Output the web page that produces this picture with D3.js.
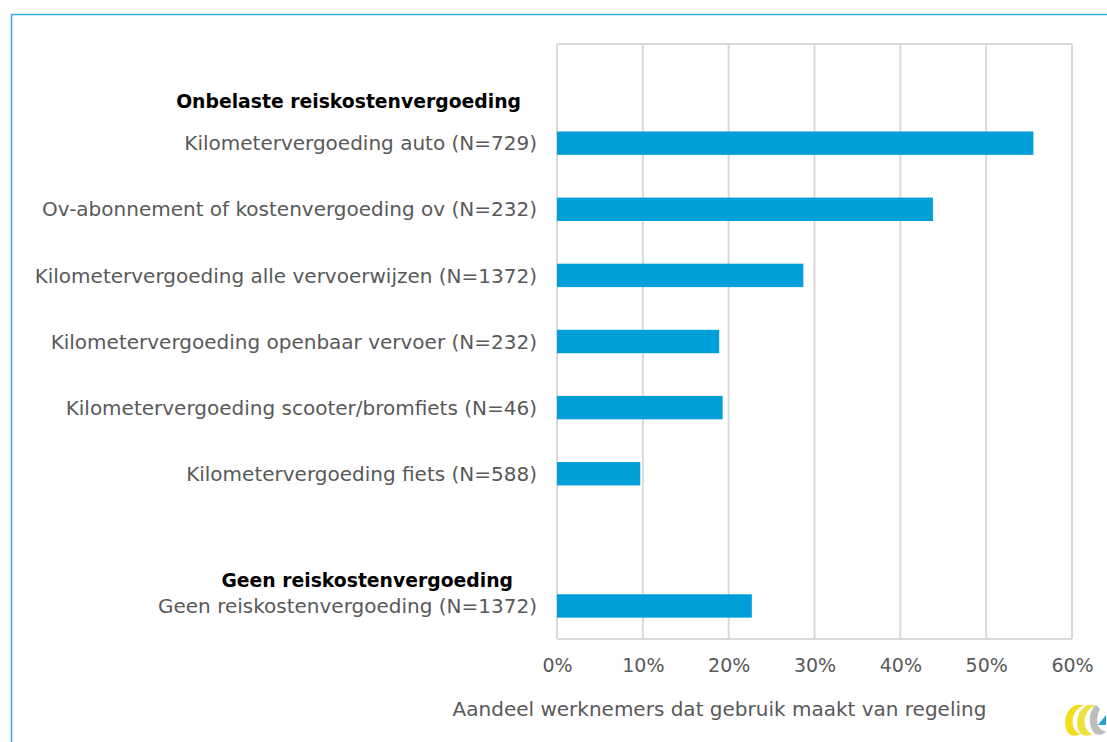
<!DOCTYPE html>
<html>
<head>
<meta charset="utf-8">
<script src="https://cdn.jsdelivr.net/npm/d3@7"></script>
<style>
  body { margin: 0; background: #fff; }
  svg text { font-family: "DejaVu Sans", sans-serif; }
</style>
</head>
<body>
<div id="chart"></div>
<script>
// rows of the category axis (keys starting with _ are spacer rows)
const categories = [
    '_top',
    'Kilometervergoeding auto (N=729)',
    'Ov-abonnement of kostenvergoeding ov (N=232)',
    'Kilometervergoeding alle vervoerwijzen (N=1372)',
    'Kilometervergoeding openbaar vervoer (N=232)',
    'Kilometervergoeding scooter/bromfiets (N=46)',
    'Kilometervergoeding fiets (N=588)',
    '_gap',
    'Geen reiskostenvergoeding (N=1372)'
];
const values = [null, 0.555, 0.438, 0.287, 0.189, 0.193, 0.097, null, 0.227];
const groupHeaders = ['Onbelaste reiskostenvergoeding', 'Geen reiskostenvergoeding'];
const headerRows = [1, 8];
const ticks = [0, 0.1, 0.2, 0.3, 0.4, 0.5, 0.6];
const axisTitle = 'Aandeel werknemers dat gebruik maakt van regeling';

const W = 1107, H = 742;
const margin = { top: 44, right: 35, bottom: 103, left: 557 };
const width = W - margin.left - margin.right,
    height = H - margin.top - margin.bottom;

const svg = d3.select('#chart')
    .append('svg')
    .attr('width', W)
    .attr('height', H);

// outer frame
svg.append('rect')
    .attr('x', 11.5).attr('y', 14.5)
    .attr('width', W + 20).attr('height', H + 20)
    .attr('fill', 'none')
    .attr('stroke', '#3aaee0')
    .attr('stroke-width', 1.5);

const g = svg.append('g')
    .attr('transform', `translate(${margin.left},${margin.top})`);

const x = d3.scaleLinear().domain([0, 0.6]).range([0, width]);
const y = d3.scaleBand().domain(categories).range([0, height])
    .paddingInner(0.646).paddingOuter(0.323);

// grid
g.selectAll('.grid')
    .data(ticks)
    .enter().append('line')
    .attr('x1', d => x(d)).attr('x2', d => x(d))
    .attr('y1', 0).attr('y2', height)
    .attr('stroke', '#d9d9d9')
    .attr('stroke-width', 2);

g.append('line')
    .attr('x1', 0).attr('x2', width)
    .attr('y1', 0).attr('y2', 0)
    .attr('stroke', '#d9d9d9').attr('stroke-width', 2);
g.append('line')
    .attr('x1', 0).attr('x2', width)
    .attr('y1', height).attr('y2', height)
    .attr('stroke', '#d9d9d9').attr('stroke-width', 2);

// bars
g.selectAll('.bar')
    .data(categories.map((c, i) => ({ c, v: values[i] })).filter(d => d.v !== null))
    .enter().append('rect')
    .attr('x', x(0))
    .attr('y', d => y(d.c))
    .attr('width', d => x(d.v) - x(0))
    .attr('height', y.bandwidth())
    .attr('fill', '#009fd9');

// category labels
g.selectAll('.lbl')
    .data(categories.filter(c => c[0] !== '_'))
    .enter().append('text')
    .attr('x', -20)
    .attr('y', d => y(d) + y.bandwidth() / 2)
    .attr('dy', '0.36em')
    .attr('text-anchor', 'end')
    .attr('fill', '#595959')
    .style('font-size', '20px')
    .text(d => d);

// group headers
const headerShift = [[-36, -42], [-44, -26]];
g.selectAll('.hdr')
    .data(groupHeaders)
    .enter().append('text')
    .attr('x', (d, i) => headerShift[i][0])
    .attr('y', (d, i) => y(categories[headerRows[i]]) + y.bandwidth() / 2 + headerShift[i][1])
    .attr('dy', '0.36em')
    .attr('text-anchor', 'end')
    .attr('fill', '#000')
    .style('font-size', '18.8px')
    .style('font-weight', 'bold')
    .text(d => d);

// x axis
const xAxis = g.append('g')
    .attr('transform', `translate(0,${height})`)
    .call(d3.axisBottom(x).tickValues(ticks).tickFormat(d3.format('.0%')).tickSize(0).tickPadding(20));
xAxis.select('.domain').remove();
xAxis.selectAll('text')
    .attr('fill', '#595959')
    .style('font-size', '19px');

g.append('text')
    .attr('x', x(0.3) - 95)
    .attr('y', height + 77)
    .attr('text-anchor', 'middle')
    .attr('fill', '#595959')
    .style('font-size', '20px')
    .text(axisTitle);

// logo
const logo = svg.append('g').attr('transform', 'translate(1062,703)');
logo.append('path')
    .attr('d', 'M14,2 C4,6 0,20 6,30 C10,34 16,33 18,31 C10,28 8,16 14,8 C16,5 20,3 22,2 Z')
    .attr('fill', '#f2dc1b');
logo.append('path')
    .attr('d', 'M26,2 C16,6 12,20 18,30 C22,34 28,33 30,31 C22,28 20,16 26,8 C28,5 32,3 34,2 Z')
    .attr('fill', '#ece23a');
logo.append('path')
    .attr('d', 'M34,2 C26,8 26,22 32,30 C36,33 42,32 44,28 C36,28 32,18 38,6 Z')
    .attr('fill', '#bdbdbd');
logo.append('path')
    .attr('d', 'M44,12 L44,22 L36,22 Z')
    .attr('fill', '#1ea0dc');
</script>
</body>
</html>
